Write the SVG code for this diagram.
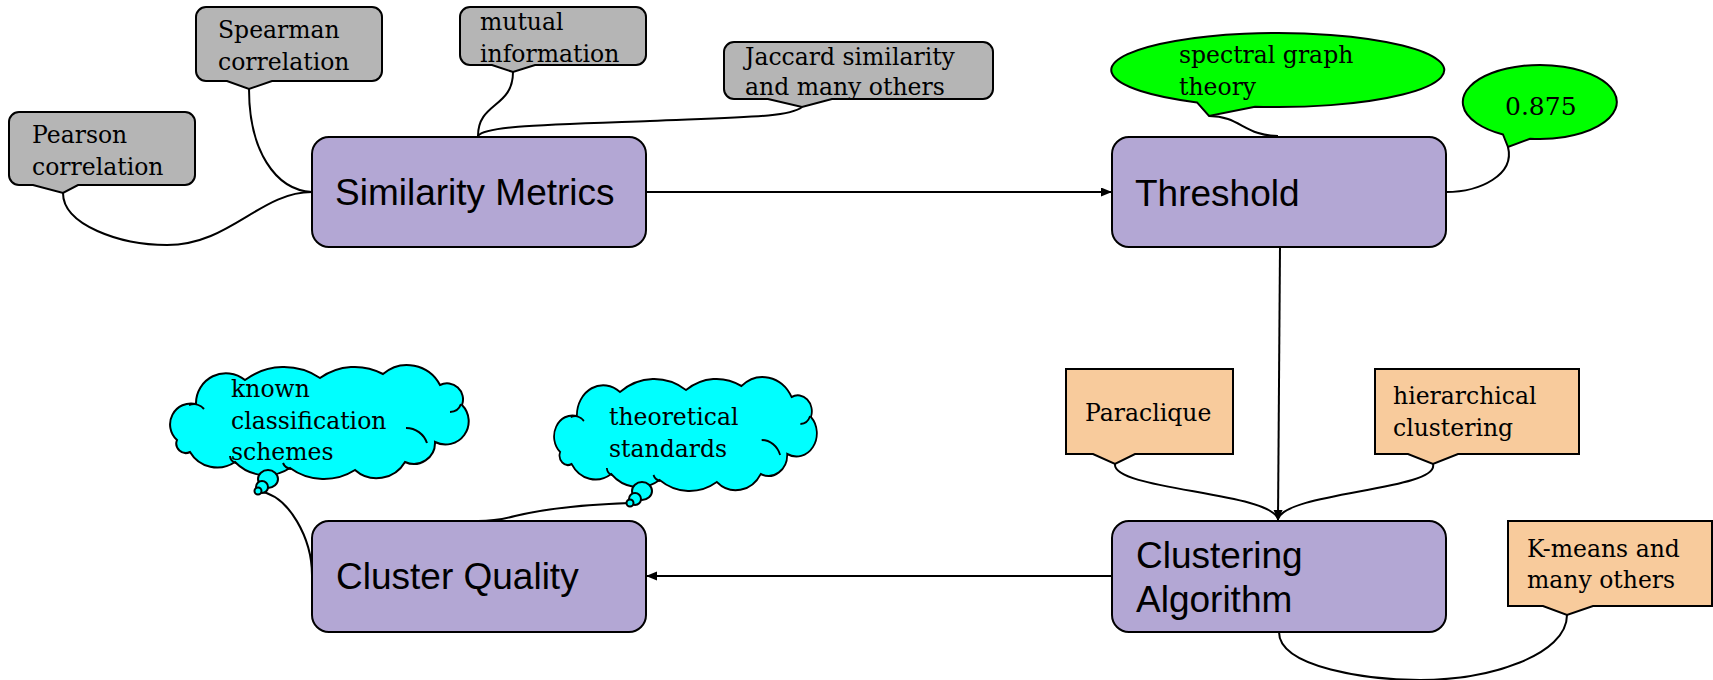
<svg xmlns="http://www.w3.org/2000/svg" xmlns:xlink="http://www.w3.org/1999/xlink" width="1713" height="680" viewBox="0 0 1713 680">
<style>
.main{fill:#b3a7d4;stroke:#000;stroke-width:2}
.mt{font-family:"Liberation Sans",Arial,sans-serif;font-size:37px;fill:#000}
.st{font-family:"DejaVu Serif","Liberation Serif",serif;font-size:23.5px;fill:#000}
.gray{fill:#b5b5b5;stroke:#000;stroke-width:2}
.green{fill:#00ff00;stroke:#000;stroke-width:2}
.orange{fill:#f8cb9c;stroke:#000;stroke-width:2}
.cyan{fill:#00ffff;stroke:#000;stroke-width:2}
.inner{fill:none;stroke:#000;stroke-width:2}
.con{fill:none;stroke:#000;stroke-width:2}
</style>
<defs>
<marker id="ah" markerUnits="userSpaceOnUse" markerWidth="12" markerHeight="10" refX="11" refY="4.5" orient="auto">
<path d="M0,0 L11,4.5 L0,9 Z" fill="#000"/>
</marker>
<path id="cloud" d="M177,440 A21,21 0 0 1 196,404 A30,30 0 0 1 245,380 A65,65 0 0 1 320,378 A60,60 0 0 1 383,374 A37,37 0 0 1 440,385 A16,16 0 0 1 462,405 A23.2,23.2 0 0 1 435,442 A21.2,21.2 0 0 1 405,462 A32.7,32.7 0 0 1 355,470 A57.8,57.8 0 0 1 290,468 A43.4,43.4 0 0 1 235,462 A31.5,31.5 0 0 1 190,452 A9.5,9.5 0 0 1 177,440 Z"/>
<g id="cloudInner">
<path d="M189,405 A14,14 0 0 1 204,409"/>
<path d="M450,412 A12,12 0 0 0 461,404"/>
<path d="M406,428 A22,22 0 0 1 427,443"/>
<path d="M283,463 A10,10 0 0 0 291,469"/>
<path d="M230,456 A8,8 0 0 0 236,463"/>
</g>
</defs>

<g id="connectors">
<path class="con" d="M646,192 H1112" marker-end="url(#ah)"/>
<path class="con" d="M1280,247 L1278,521" marker-end="url(#ah)"/>
<path class="con" d="M1112,576 H646" marker-end="url(#ah)"/>
<path class="con" d="M63,193 C63,225 120,245 167,245 C230,245 260,192 312,192"/>
<path class="con" d="M249,89 C249,150 275,190 312,192"/>
<path class="con" d="M513,72 C513,108 478,102 478,136"/>
<path class="con" d="M478,136 C485,126 540,125 650,121 C750,117 790,117 802,107"/>
<path class="con" d="M1209,116 C1240,116 1245,136 1278,136"/>
<path class="con" d="M1508,147 C1515,175 1480,192 1446,192"/>
<path class="con" d="M1115,464 C1112,490 1270,492 1278,519"/>
<path class="con" d="M1433,464 C1440,490 1286,492 1278,519"/>
<path class="con" d="M1279,632 C1279,668 1370,680 1420,680 C1490,680 1567,655 1567,615"/>
<path class="con" d="M258,491 C290,495 312,540 312,575"/>
<path class="con" d="M630,503 C570,505 540,510 515,516 C500,520 490,521 478,521"/>
</g>

<g id="similarity-metrics">
<rect class="main" x="312" y="137" width="334" height="110" rx="17"/>
<text class="mt" x="335" y="205">Similarity Metrics</text>
</g>
<g id="threshold">
<rect class="main" x="1112" y="137" width="334" height="110" rx="17"/>
<text class="mt" x="1135" y="206">Threshold</text>
</g>
<g id="cluster-quality">
<rect class="main" x="312" y="521" width="334" height="111" rx="17"/>
<text class="mt" x="336" y="589">Cluster Quality</text>
</g>
<g id="clustering-algorithm">
<rect class="main" x="1112" y="521" width="334" height="111" rx="17"/>
<text class="mt" x="1136" y="568">Clustering</text>
<text class="mt" x="1136" y="612">Algorithm</text>
</g>

<g id="pearson">
<path class="gray" d="M19,112 H185 A10,10 0 0 1 195,122 V175 A10,10 0 0 1 185,185 H78 L63,193 L33,185 H19 A10,10 0 0 1 9,175 V122 A10,10 0 0 1 19,112 Z"/>
<text class="st" x="32" y="143">Pearson</text>
<text class="st" x="32" y="175">correlation</text>
</g>
<g id="spearman">
<path class="gray" d="M206,7 H372 A10,10 0 0 1 382,17 V71 A10,10 0 0 1 372,81 H272 L249,89 L227,81 H206 A10,10 0 0 1 196,71 V17 A10,10 0 0 1 206,7 Z"/>
<text class="st" x="218" y="38">Spearman</text>
<text class="st" x="218" y="70">correlation</text>
</g>
<g id="mutual-information">
<path class="gray" d="M470,7 H636 A10,10 0 0 1 646,17 V55 A10,10 0 0 1 636,65 H535 L513,72 L492,65 H470 A10,10 0 0 1 460,55 V17 A10,10 0 0 1 470,7 Z"/>
<text class="st" x="480" y="30">mutual</text>
<text class="st" x="480" y="62">information</text>
</g>
<g id="jaccard">
<path class="gray" d="M734,42 H983 A10,10 0 0 1 993,52 V89 A10,10 0 0 1 983,99 H832 L802,107 L768,99 H734 A10,10 0 0 1 724,89 V52 A10,10 0 0 1 734,42 Z"/>
<text class="st" x="745" y="65">Jaccard similarity</text>
<text class="st" x="745" y="95">and many others</text>
</g>

<g id="spectral-graph-theory">
<path class="green" d="M1197,102.4 L1209,116 L1255,106.7 A166.5,37 0 1 0 1197,102.4 Z"/>
<text class="st" x="1179" y="63">spectral graph</text>
<text class="st" x="1179" y="95">theory</text>
</g>
<g id="value-0875">
<path class="green" d="M1503,134.5 L1508,147 L1530,138.7 A77,37 0 1 0 1503,134.5 Z"/>
<text class="st" x="1505" y="115" style="font-size:25px">0.875</text>
</g>

<g id="paraclique">
<path class="orange" d="M1066,369 H1233 V454 H1135 L1115,464 L1093,454 H1066 Z"/>
<text class="st" x="1085" y="421">Paraclique</text>
</g>
<g id="hierarchical-clustering">
<path class="orange" d="M1375,369 H1579 V454 H1458 L1433,464 L1408,454 H1375 Z"/>
<text class="st" x="1393" y="404">hierarchical</text>
<text class="st" x="1393" y="436">clustering</text>
</g>
<g id="k-means">
<path class="orange" d="M1508,521 H1712 V606 H1593 L1567,615 L1543,606 H1508 Z"/>
<text class="st" x="1527" y="557">K-means and</text>
<text class="st" x="1527" y="588">many others</text>
</g>

<g id="known-classification-schemes">
<use xlink:href="#cloud" href="#cloud" class="cyan"/>
<use xlink:href="#cloudInner" href="#cloudInner" class="inner"/>
<ellipse class="cyan" cx="268" cy="479" rx="10" ry="9"/>
<circle class="cyan" cx="262" cy="487" r="6"/>
<circle class="cyan" cx="258" cy="491" r="3.5"/>
<text class="st" x="231" y="397">known</text>
<text class="st" x="231" y="429">classification</text>
<text class="st" x="231" y="460">schemes</text>
</g>
<g id="theoretical-standards">
<g transform="translate(404.4,12) scale(0.88,1)">
<use xlink:href="#cloud" href="#cloud" class="cyan"/>
<use xlink:href="#cloudInner" href="#cloudInner" class="inner"/>
</g>
<ellipse class="cyan" cx="642" cy="491" rx="10" ry="9"/>
<circle class="cyan" cx="635" cy="499" r="6"/>
<circle class="cyan" cx="630" cy="503" r="3.5"/>
<text class="st" x="609" y="425">theoretical</text>
<text class="st" x="609" y="457">standards</text>
</g>
</svg>
